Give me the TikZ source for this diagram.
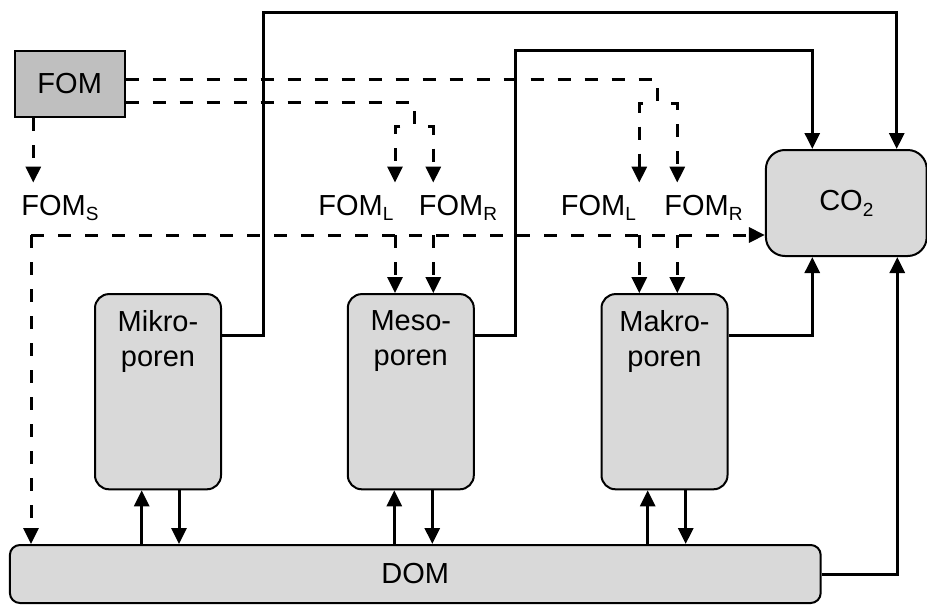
\documentclass[tikz,border=0pt]{standalone}
\usepackage{fontspec}
\setmainfont{Liberation Sans}
\usetikzlibrary{arrows.meta,positioning}

\newcommand{\idx}[1]{\raisebox{-0.2em}{\fontsize{9.5pt}{10pt}\selectfont #1}}

\begin{document}
\begin{tikzpicture}
[x=0.5pt, y=-0.5pt, >={Triangle[length=8pt,width=7.5pt]},
font=\fontsize{14.5pt}{17.3pt}\selectfont,
% STYLES
% The pool style is used for the carbon pools
pool/.style={rectangle, draw, line width=1pt, fill=black!15, rounded corners=7pt, minimum width=63pt, minimum height=97.6pt},
% The source style is used for the fresh organic matter
source/.style={rectangle, draw, line width=1pt, fill=black!25, minimum width=55pt, minimum height=33.3pt},
pooltext/.style={align=center, inner sep=0pt},
% The fraction style is used for the FOM fractions
fraction/.style={inner xsep=0pt, inner ysep=5.9pt, anchor=base west},
flow/.style={->, line width=1.5pt},
input/.style={line width=1.5pt, dash pattern=on 6.5pt off 7pt},
branch/.style={input, ->, dash phase=6.5pt}]

\useasboundingbox (0,0) rectangle (927,605);

% Draw pools
\node [source] (fom) at (69.7,84) {FOM};
\node [pool] (mikro) at (158,391.7) {};
\node [pool] (meso) at (410.8,391.7) {};
\node [pool] (makro) at (664.5,391.7) {};
\node [pool, minimum width=405.4pt, minimum height=29pt, rounded corners=5pt] (dom) at (415.3,574) {DOM};
\node [pool, minimum width=80.4pt, minimum height=53pt, rounded corners=9.5pt] (co2) at (846.3,203) {CO\idx{2}};

\node [pooltext, below=8.7pt of mikro.north] (mikro-text) {Mikro-\\poren};
\node [pooltext, below=8.7pt of meso.north] (meso-text) {Meso-\\poren};
\node [pooltext, below=8.7pt of makro.north] (makro-text) {Makro-\\poren};

% FOM fractions
\node [fraction] (foms) at (21,215) {FOM\idx{S}};
\node [fraction] (meso-l) at (318,215) {FOM\idx{L}};
\node [fraction] (meso-r) at (418.5,215) {FOM\idx{R}};
\node [fraction] (makro-l) at (560.5,215) {FOM\idx{L}};
\node [fraction] (makro-r) at (664,215) {FOM\idx{R}};

\coordinate (meso-split) at (414.3,126.7);
\coordinate (makro-split) at (657,103.3);
\coordinate (soil) at (31,235);
\coordinate (meso-in-l) at (395,235);
\coordinate (meso-in-r) at (433.3,235);
\coordinate (makro-in-l) at (639.3,235);
\coordinate (makro-in-r) at (677.3,235);
\path ([xshift=-18.2pt]fom.south) coordinate (fom-s);

% Draw the dashed inputs
\draw [input, ->] (fom-s) -- (fom-s |- foms.north);
\draw [input] ([yshift=-9.35pt]fom.east) -| (meso-split);
\draw [branch] (meso-split) -| (meso-in-l |- meso-l.north);
\draw [branch] (meso-split) -| (meso-in-r |- meso-r.north);
\draw [input] ([yshift=2.35pt]fom.east) -| (makro-split);
\draw [branch] (makro-split) -| (makro-in-l |- makro-l.north);
\draw [branch] (makro-split) -| (makro-in-r |- makro-r.north);
\draw [input, ->] (soil) -- (soil |- dom.north);
\draw [input, ->] (soil) -- (soil -| co2.west);
\foreach \p in {meso-in-l, meso-in-r}
  \draw [input, ->] (\p) -- (\p |- meso.north);
\foreach \p in {makro-in-l, makro-in-r}
  \draw [input, ->] (\p) -- (\p |- makro.north);

% Draw the fluxes
\draw [flow] ([yshift=-21.35pt]mikro.north east) -| (263,12.7) -| ([xshift=25.2pt]co2.north);
\draw [flow] ([yshift=-21.35pt]meso.north east) -| (515,50.7) -| ([xshift=-17pt]co2.north);
\draw [flow] ([yshift=-21.35pt]makro.north east) -| ([xshift=-17pt]co2.south);
\draw [flow] (dom.east) -| ([xshift=25.5pt]co2.south);
\foreach \p/\u/\d in {mikro/141.7/179, meso/394.3/432.3, makro/647.7/685.7} {
  \draw [flow] (\u,0 |- dom.north) -- (\u,0 |- \p.south);
  \draw [flow] (\d,0 |- \p.south) -- (\d,0 |- dom.north);
}

\end{tikzpicture}
\end{document}
